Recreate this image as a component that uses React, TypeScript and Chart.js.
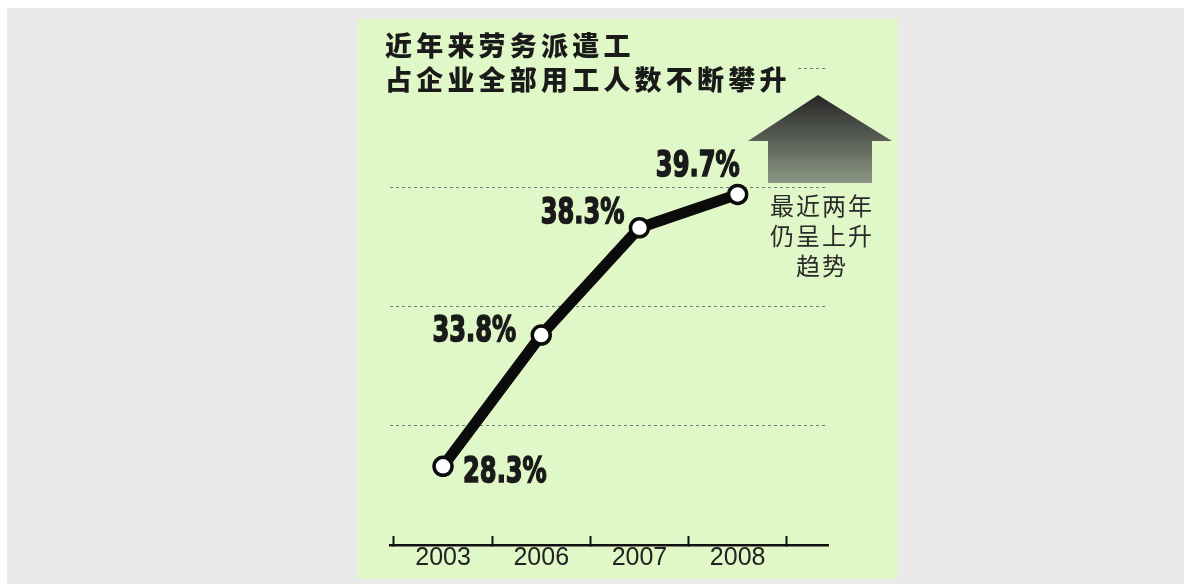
import React, { useEffect, useRef } from "react";
import { Chart, registerables } from "chart.js";

Chart.register(...registerables);

// ---- data ----
const years = ["2003", "2006", "2007", "2008"];
const shares = [28.3, 33.8, 38.3, 39.7];
const yGridValues = [25, 30, 35, 40, 45];
const titleLines = ["近年来劳务派遣工", "占企业全部用工人数不断攀升"];
const noteLines = ["最近两年", "仍呈上升", "趋势"];

// label placement relative to each point (style only)
const labelPlacement: { dx: number; dy: number; align: CanvasTextAlign }[] = [
  { dx: 20, dy: 6, align: "left" },
  { dx: -25, dy: -4, align: "right" },
  { dx: -15, dy: -15, align: "right" },
  { dx: 2, dy: -28, align: "right" },
];

const GREEN = "#e0f8c8";
const INK = "#1a1a1a";

const valueLabels = {
  id: "valueLabels",
  afterDatasetsDraw(chart: any) {
    const ctx = chart.ctx as CanvasRenderingContext2D;
    const meta = chart.getDatasetMeta(0);
    meta.data.forEach((pt: any, i: number) => {
      const p = labelPlacement[i];
      const text = shares[i].toFixed(1) + "%";
      ctx.save();
      ctx.translate(pt.x + p.dx, pt.y + p.dy);
      ctx.scale(0.69, 1);
      ctx.font = "bold 35px 'DejaVu Sans', sans-serif";
      ctx.fillStyle = INK;
      ctx.strokeStyle = INK;
      ctx.lineWidth = 1.6;
      ctx.textBaseline = "middle";
      ctx.textAlign = p.align;
      ctx.fillText(text, 0, 1);
      ctx.strokeText(text, 0, 1);
      ctx.restore();
    });
  },
};

export default function App() {
  const canvasRef = useRef<HTMLCanvasElement | null>(null);

  useEffect(() => {
    if (!canvasRef.current) return;
    const chart = new Chart(canvasRef.current, {
      type: "line",
      data: {
        datasets: [
          {
            data: years.map((_, i) => ({ x: i, y: shares[i] })),
            borderColor: "#0b0b0b",
            borderWidth: 11,
            pointRadius: 9,
            pointBorderWidth: 3.5,
            pointBackgroundColor: "#ffffff",
            pointBorderColor: "#0b0b0b",
            tension: 0,
            clip: false as any,
          } as any,
        ],
      },
      options: {
        animation: false,
        responsive: false,
        maintainAspectRatio: false,
        layout: { padding: { left: 33, right: 70, top: 49, bottom: 3 } },
        plugins: {
          legend: { display: false },
          tooltip: { enabled: false },
          title: { display: false },
        },
        scales: {
          x: {
            type: "linear",
            min: -0.54,
            max: 3.92,
            afterBuildTicks: (s: any) => {
              s.ticks = years.map((_, i) => ({ value: i }));
            },
            grid: {
              offset: true,
              drawOnChartArea: false,
              drawTicks: true,
              tickLength: -9,
              tickColor: "#111",
              tickWidth: 2,
            } as any,
            border: { display: true, color: "#111", width: 2.5 },
            ticks: {
              padding: 7,
              color: "#222",
              autoSkip: false,
              maxRotation: 0,
              font: { family: "'Liberation Sans', Arial, sans-serif", size: 25 },
              callback: (v: any) => years[v] ?? "",
            },
          },
          y: {
            type: "linear",
            min: 25,
            max: 45,
            afterBuildTicks: (s: any) => {
              s.ticks = yGridValues.map((v) => ({ value: v }));
            },
            ticks: { display: false },
            grid: {
              drawTicks: false,
              lineWidth: 1,
              color: (c: any) => (c.tick && c.tick.value === 25 ? "rgba(0,0,0,0)" : "#7a7a7a"),
            },
            border: { display: false, dash: [3, 3] },
          },
        },
      },
      plugins: [valueLabels],
    });
    return () => chart.destroy();
  }, []);

  return (
    <div
      style={{
        position: "fixed",
        left: 7,
        top: 8,
        right: 0,
        bottom: 0,
        background: "#e9e9e9",
      }}
    >
      <div
        style={{
          position: "fixed",
          left: 357,
          top: 19,
          width: 541,
          height: 560,
          background: GREEN,
          overflow: "hidden",
        }}
      >
        <canvas
          ref={canvasRef}
          width={541}
          height={564}
          style={{ position: "absolute", left: 0, top: 0, width: 541, height: 564 }}
        />
        <div
          style={{
            position: "absolute",
            left: 28,
            top: 9,
            paddingRight: 6,
            background: GREEN,
            fontFamily: "'Noto Sans CJK SC', sans-serif",
            fontWeight: 900,
            fontSize: 27,
            lineHeight: "34px",
            letterSpacing: "4.2px",
            color: INK,
            whiteSpace: "nowrap",
          }}
        >
          {titleLines.map((t) => (
            <div key={t}>{t}</div>
          ))}
        </div>
        <svg
          width={541}
          height={200}
          style={{ position: "absolute", left: 0, top: 0 }}
        >
          <defs>
            <linearGradient id="arrowGrad" x1="0" y1="76" x2="0" y2="164" gradientUnits="userSpaceOnUse">
              <stop offset="0" stopColor="#262626" />
              <stop offset="1" stopColor="#8b9784" />
            </linearGradient>
          </defs>
          <polygon
            points="461,76 535,122 515,122 515,164 411,164 411,122 391,122"
            fill="url(#arrowGrad)"
          />
        </svg>
        <div
          style={{
            position: "absolute",
            left: 403,
            top: 171,
            width: 120,
            paddingLeft: 2,
            textAlign: "center",
            fontFamily: "'Noto Sans CJK SC', sans-serif",
            fontSize: 24,
            lineHeight: "30px",
            letterSpacing: "2px",
            color: "#2a2a2a",
            whiteSpace: "nowrap",
          }}
        >
          {noteLines.map((t) => (
            <div key={t}>{t}</div>
          ))}
        </div>
      </div>
    </div>
  );
}
